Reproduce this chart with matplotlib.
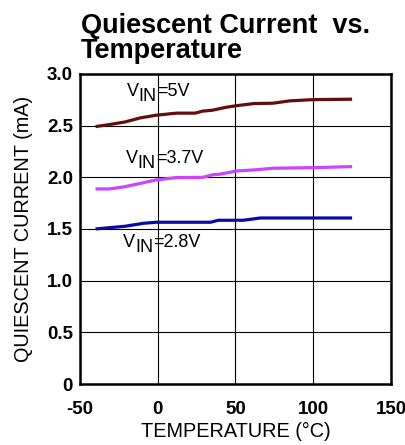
import numpy as np
import matplotlib
matplotlib.use('Agg')
from matplotlib import pyplot as plt

plt.rcParams['font.family'] = ['Liberation Sans', 'DejaVu Sans']
plt.rcParams['axes.unicode_minus'] = False

# 温度 (°C) 和静态电流 (mA)
t_5v = [-40, -31, -21, -11, -1, 12, 24, 29, 35, 44, 51, 62, 74, 85, 100, 125]
i_5v = [2.49, 2.51, 2.535, 2.575, 2.60, 2.62, 2.62, 2.64, 2.648, 2.677, 2.693, 2.713, 2.716, 2.739, 2.751, 2.755]

t_37v = [-40, -31, -21, -9, -1, 12, 29, 35, 40, 51, 62, 74, 100, 125]
i_37v = [1.887, 1.887, 1.909, 1.948, 1.974, 1.997, 1.999, 2.023, 2.03, 2.061, 2.071, 2.087, 2.093, 2.103]

t_28v = [-40, -21, -9, -1, 34, 39, 55, 66, 125]
i_28v = [1.50, 1.526, 1.555, 1.565, 1.565, 1.584, 1.584, 1.606, 1.606]

xticks = [-50, 0, 50, 100, 150]
yticks = [0, 0.5, 1.0, 1.5, 2.0, 2.5, 3.0]
ylabels = ['0', '0.5', '1.0', '1.5', '2.0', '2.5', '3.0']

# 标注: (x, y, 电压)
labels = [(-20, 2.745, '5V'), (-20.6, 2.095, '3.7V'), (-22.3, 1.282, '2.8V')]

fig = plt.figure(figsize=(4.06, 4.45), dpi=100)
ax = fig.add_axes([0.197, 0.137, 0.766, 0.697])

ax.plot(t_5v, i_5v, color='#650d0d', lw=2.3, solid_capstyle='butt')
ax.plot(t_37v, i_37v, color='#cc44ff', lw=2.3, solid_capstyle='butt')
ax.plot(t_28v, i_28v, color='#0a0aa8', lw=2.3, solid_capstyle='butt')

ax.set_xlim(-50, 150)
ax.set_ylim(0, 3.0)
ax.set_xticks(xticks)
ax.set_yticks(yticks)
ax.set_yticklabels(ylabels)
ax.grid(True, color='black', lw=0.8)
ax.set_axisbelow(True)
ax.tick_params(length=0, labelsize=13.5)
ax.tick_params(axis='x', pad=12)
ax.tick_params(axis='y', pad=5)
for lab in ax.get_xticklabels() + ax.get_yticklabels():
    lab.set_fontweight('bold')
for s in ax.spines.values():
    s.set_linewidth(1.8)

ax.set_xlabel('TEMPERATURE (°C)', fontsize=14.3, labelpad=3)
ax.set_ylabel('QUIESCENT CURRENT (mA)', fontsize=14.3, labelpad=10)

fs = 13
for x, y, v in labels:
    t1 = ax.text(x, y, 'V', fontsize=fs, va='bottom')
    t2 = ax.annotate('IN', xy=(1, 0), xycoords=t1, xytext=(0, -3.6),
                     textcoords='offset points', fontsize=fs, va='bottom')
    ax.annotate('=' + v, xy=(1, 0), xycoords=t2, xytext=(0, 3.6),
                textcoords='offset points', fontsize=fs, va='bottom')

fig.text(0.2, 1 - 33 / 445, 'Quiescent Current  vs.', fontsize=19.5,
         fontweight='bold', va='baseline', ha='left')
fig.text(0.2, 1 - 58 / 445, 'Temperature', fontsize=19.5,
         fontweight='bold', va='baseline', ha='left')

fig.savefig('out.png', dpi=100)
